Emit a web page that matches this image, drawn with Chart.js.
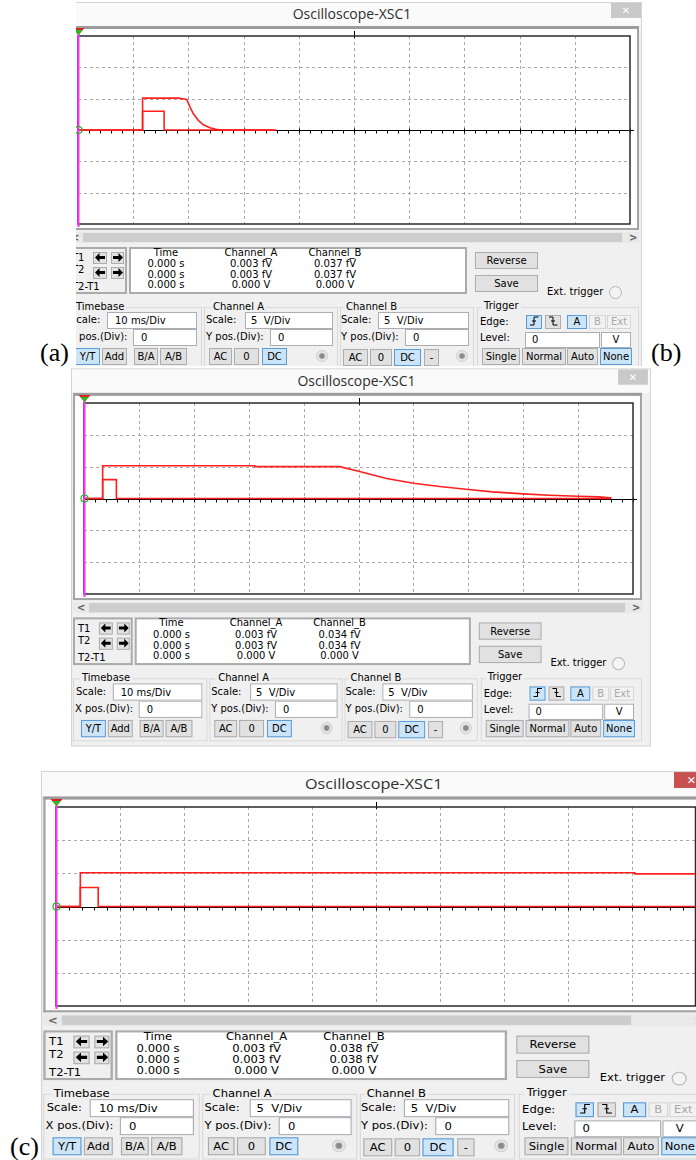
<!DOCTYPE html>
<html><head><meta charset="utf-8">
<script src="https://cdn.jsdelivr.net/npm/chart.js@4.4.0/dist/chart.umd.min.js"></script>
<style>
html,body{margin:0;padding:0;background:#fff;}
body{width:696px;height:1160px;overflow:hidden;position:relative;font-family:"DejaVu Sans",sans-serif;font-size:10px;color:#000;}
.clip{position:absolute;overflow:hidden;}
.tpl{position:absolute;left:0;top:0;width:700px;height:380px;transform-origin:0 0;}
.tpl div{position:absolute;box-sizing:border-box;white-space:nowrap;}
.win{background:#f0f0f0;border:1px solid #d4d4d4;}
.tbar{background:#fafafa;}
.ttl{font-family:"Open Sans",sans-serif;font-size:14px;color:#2e2e2e;text-align:center;}
.frame{background:#fff;border:2px solid #a3a3a3;border-top:3px solid #9c9c9c;}
.sb{background:#e9e9e9;}
.thumb{background:#cdcdcd;}
.sunk{border:2px solid #ababab;}
.white{background:#fff;}
.btn{background:#e1e1e1;border:1px solid #adadad;text-align:center;}
.on{background:#cce4f7;border:1px solid #5b9bd5;}
.dis{background:#f2f2f2;border:1px solid #d5d5d5;color:#a8a8a8;text-align:center;}
.tb{background:#fff;border:1px solid #abadb3;padding-left:7px;}
.grp{border:1px solid #d9d9d9;}
.lab{height:14px;line-height:14px;}
.plab{position:absolute;font-family:"Liberation Serif",serif;font-size:26px;line-height:26px;color:#000;}
canvas{position:absolute;}
</style>
</head><body>
<script>
// ---- axis settings (oscilloscope: 10 ms/Div, 5 V/Div, 10 x 6 divisions) ----
const xMin = 0, xMax = 100, yMin = -15, yMax = 15;
const xGridTicks = [10, 20, 30, 40, 50, 60, 70, 80, 90];
const yGridTicks = [-10, -5, 5, 10];
const minorStep = 2;

// ---- traces (time in ms, voltage in V) ----
const timeA_a = [0, 11.7, 11.7, 15.6, 15.6, 35.8];
const voltA_a = [0, 0, 3.0, 3.0, 0, 0];
const timeB_a = [0, 11.7, 11.7, 18.2, 19.7, 20.3, 20.9, 21.8, 22.7, 23.9, 25.0, 26.0, 35.8];
const voltB_a = [0, 0, 5.08, 5.08, 4.87, 3.64, 2.59, 1.52, 0.83, 0.35, 0.13, 0, 0];

const timeA_b = [0, 3.4, 3.4, 5.9, 5.9, 96.0];
const voltA_b = [0, 0, 2.97, 2.97, 0, 0];
const timeB_b = [0, 3.4, 3.4, 31.1, 31.1, 46.6, 50.0, 55.1, 60.0, 64.8, 70.0, 74.4, 80.0, 84.8, 90.0, 93.8, 96.0, 96.0];
const voltB_b = [0, 0, 5.15, 5.15, 5.0, 5.0, 4.27, 3.13, 2.40, 1.88, 1.41, 1.04, 0.73, 0.52, 0.36, 0.26, 0.10, 0];

const timeA_c = [0, 3.8, 3.8, 6.6, 6.6, 100];
const voltA_c = [0, 0, 2.86, 2.86, 0, 0];
const timeB_c = [0, 3.8, 3.8, 90.5, 90.5, 100];
const voltB_c = [0, 0, 5.08, 5.08, 4.92, 4.92];

// ---- readouts / settings text ----
const readHeaders = ['Time', 'Channel_A', 'Channel_B'];
const readTime = ['0.000 s', '0.000 s', '0.000 s'];
const readChA = ['0.003 fV', '0.003 fV', '0.000 V'];
const readChB_a = ['0.037 fV', '0.037 fV', '0.000 V'];
const readChB_b = ['0.034 fV', '0.034 fV', '0.000 V'];
const readChB_c = ['0.038 fV', '0.038 fV', '0.000 V'];
const timebaseScale = '10 ms/Div';
const chScale = '5&nbsp; V/Div';

const panels = [
  {key:'a', clip:[76,0,620,366], tf:[1,1,0,0], plot:[78,36,552,188], chB:readChB_a, close:'#c9c9c9',
   tA:timeA_a, vA:voltA_a, tB:timeB_a, vB:voltB_a, thumbR:622, winR:642, closeX:611},
  {key:'b', clip:[0,367,696,393], tf:[0.9946,1.016,6.4,366.4], plot:[84,403,549,191], chB:readChB_b, close:'#c9c9c9',
   tA:timeA_b, vA:voltA_b, tB:timeB_b, vB:voltB_b, thumbR:622, winR:648, closeX:615},
  {key:'c', clip:[0,768,696,392], tf:[1.1594,1.0585,-34.4,768.9], plot:[56,807,639.5,199], chB:readChB_c, close:'#c75050',
   tA:timeA_c, vA:voltA_c, tB:timeB_c, vB:voltB_c, thumbR:574, winR:660, closeX:611},
];

function d(parent, x, y, w, h, cls, html, extra) {
  const e = document.createElement('div');
  if (cls) e.className = cls;
  e.style.left = x + 'px'; e.style.top = y + 'px';
  if (w != null) e.style.width = w + 'px';
  if (h != null) { e.style.height = h + 'px'; e.style.lineHeight = (h - 2) + 'px'; }
  if (html != null) e.innerHTML = html;
  if (extra) e.style.cssText += extra;
  parent.appendChild(e);
  return e;
}
function lab(parent, x, yc, text, extra) {
  return d(parent, x, yc - 7, null, null, 'lab', text, extra);
}
function clab(parent, xc, yc, text) {
  return d(parent, xc - 50, yc - 7, 100, null, 'lab', text, 'text-align:center;');
}
const arrL = '<svg width="10" height="9" viewBox="0 0 10 9" style="vertical-align:middle;margin-top:-2px"><path d="M0 4.5L4.5 0V3H10V6H4.5V9Z" fill="#000"/></svg>';
const arrR = '<svg width="10" height="9" viewBox="0 0 10 9" style="vertical-align:middle;margin-top:-2px"><path d="M10 4.5L5.5 0V3H0V6H5.5V9Z" fill="#000"/></svg>';
const edgeR = '<svg width="10" height="10" viewBox="0 0 10 10" style="vertical-align:middle;margin-top:-2px"><path d="M1 9H5V1H9.5M3 5H7" stroke="#000" fill="none" stroke-width="1"/></svg>';
const edgeF = '<svg width="10" height="10" viewBox="0 0 10 10" style="vertical-align:middle;margin-top:-2px"><path d="M1 1H5V9H9.5M3 5H7" stroke="#000" fill="none" stroke-width="1"/></svg>';

function dot(parent, cx, cy) {
  const o = d(parent, cx - 6, cy - 6, 12, 12, '', '', 'border-radius:50%;background:#e6e6e6;border:1px solid #d0d0d0;');
  d(o, 2, 2, 6, 6, '', '', 'border-radius:50%;background:#8a8a8a;border:1px solid #9a9a9a;');
}

function buildTemplate(t, p) {
  d(t, 65, 2, p.winR - 65, 372, 'win');
  d(t, 66, 3, p.winR - 67, 23, 'tbar');
  d(t, 252, 3, 200, 22, 'ttl', 'Oscilloscope-XSC1', 'line-height:22px;');
  d(t, p.closeX, 3, 30, 15, '', '&#x2715;', 'background:' + p.close + ';color:#fff;text-align:center;font-size:10px;line-height:15px;font-weight:bold;');
  d(t, 67, 26, 572, 204, 'frame');
  // scrollbar
  d(t, 67, 232, 572, 11, 'sb');
  d(t, 83, 233, p.thumbR - 83, 9, 'thumb');
  lab(t, 71, 237.5, '&lt;', 'font-weight:bold;color:#606060;font-size:10px;');
  lab(t, 629, 237.5, '&gt;', 'font-weight:bold;color:#606060;font-size:10px;');
  // cursor box
  d(t, 67, 247, 60, 47, 'sunk');
  lab(t, 72, 258, 'T1'); lab(t, 72, 270, 'T2'); lab(t, 72, 287, 'T2-T1');
  d(t, 93, 252, 14, 12, 'btn', arrL, 'line-height:10px;');
  d(t, 111, 252, 13, 12, 'btn', arrR, 'line-height:10px;');
  d(t, 93, 267, 14, 12, 'btn', arrL, 'line-height:10px;');
  d(t, 111, 267, 13, 12, 'btn', arrR, 'line-height:10px;');
  // readout
  d(t, 129, 247, 338, 47, 'sunk white');
  const cols = [166, 251, 335];
  const rows = [253, 264, 274.5, 285];
  readHeaders.forEach((h, i) => clab(t, cols[i], rows[0], h));
  for (let r = 0; r < 3; r++) {
    clab(t, cols[0], rows[r + 1], readTime[r]);
    clab(t, cols[1], rows[r + 1], readChA[r]);
    clab(t, cols[2], rows[r + 1], p.chB[r]);
  }
  d(t, 475, 252, 63, 17, 'btn', 'Reverse');
  d(t, 475, 275, 63, 17, 'btn', 'Save');
  lab(t, 547, 292, 'Ext. trigger');
  d(t, 609, 286, 13, 13, '', '', 'border-radius:50%;border:1px solid #b5b5b5;background:#f4f4f4;');
  // groups
  d(t, 67, 307, 135, 62, 'grp'); d(t, 204, 307, 134, 62, 'grp');
  d(t, 340, 307, 134, 62, 'grp'); d(t, 477, 307, 162, 62, 'grp');
  lab(t, 74, 307, 'Timebase', 'background:#f0f0f0;padding:0 2px;');
  lab(t, 211, 307, 'Channel A', 'background:#f0f0f0;padding:0 2px;');
  lab(t, 344, 307, 'Channel B', 'background:#f0f0f0;padding:0 2px;');
  lab(t, 482, 306, 'Trigger', 'background:#f0f0f0;padding:0 2px;');
  // timebase
  lab(t, 70, 320, 'Scale:');
  d(t, 107, 312, 90, 17, 'tb', timebaseScale);
  lab(t, 69, 337, 'X pos.(Div):');
  d(t, 133, 329, 64, 17, 'tb', '0');
  d(t, 75, 348, 25, 17, 'btn on', 'Y/T');
  d(t, 102, 348, 25, 17, 'btn', 'Add');
  d(t, 134, 348, 24, 17, 'btn', 'B/A');
  d(t, 160, 348, 27, 17, 'btn', 'A/B');
  // channel A
  lab(t, 206, 320, 'Scale:');
  d(t, 245, 312, 88, 17, 'tb', chScale, 'padding-left:5px;');
  lab(t, 206, 337, 'Y pos.(Div):');
  d(t, 270, 329, 63, 17, 'tb', '0');
  d(t, 209, 348, 23, 17, 'btn', 'AC');
  d(t, 234, 348, 25, 17, 'btn', '0');
  d(t, 262, 348, 25, 17, 'btn on', 'DC');
  dot(t, 322, 356);
  // channel B
  lab(t, 341, 320, 'Scale:');
  d(t, 378, 312, 91, 17, 'tb', chScale, 'padding-left:5px;');
  lab(t, 341, 337, 'Y pos.(Div):');
  d(t, 405, 329, 64, 17, 'tb', '0');
  d(t, 343, 349, 25, 17, 'btn', 'AC');
  d(t, 370, 349, 22, 17, 'btn', '0');
  d(t, 394, 349, 27, 17, 'btn on', 'DC');
  d(t, 424, 349, 15, 17, 'btn', '-');
  dot(t, 462, 356);
  // trigger
  lab(t, 480, 322, 'Edge:');
  d(t, 526, 315, 16, 14, 'btn on', edgeR, 'line-height:12px;');
  d(t, 545, 315, 16, 14, 'btn', edgeF, 'line-height:12px;');
  d(t, 567, 315, 20, 14, 'btn on', 'A', 'line-height:12px;');
  d(t, 589, 315, 17, 14, 'dis', 'B', 'line-height:12px;');
  d(t, 607, 315, 24, 14, 'dis', 'Ext', 'line-height:12px;');
  lab(t, 480, 338, 'Level:');
  d(t, 525, 332, 75, 16, 'tb', '0', 'padding-left:6px;');
  d(t, 601, 332, 30, 16, 'tb', 'V', 'padding-left:0;text-align:center;');
  d(t, 482, 348, 38, 17, 'btn', 'Single');
  d(t, 522, 348, 44, 17, 'btn', 'Normal');
  d(t, 567, 348, 31, 17, 'btn', 'Auto');
  d(t, 600, 348, 32, 17, 'btn on', 'None');
}

const scopePlugin = {
  id: 'scope',
  beforeDatasetsDraw(chart) {
    const {ctx, chartArea: a, scales: {x, y}} = chart;
    ctx.save();
    ctx.fillStyle = '#fff';
    ctx.fillRect(a.left, a.top, a.right - a.left, a.bottom - a.top);
    ctx.lineWidth = 1;
    ctx.strokeStyle = '#a9a9a9';
    ctx.setLineDash([3, 3]);
    ctx.beginPath();
    for (const t of xGridTicks) {
      const px = Math.round(x.getPixelForValue(t)) + 0.5;
      ctx.moveTo(px, a.top); ctx.lineTo(px, a.bottom);
    }
    for (const v of yGridTicks) {
      const py = Math.round(y.getPixelForValue(v)) + 0.5;
      ctx.moveTo(a.left, py); ctx.lineTo(a.right, py);
    }
    ctx.stroke();
    ctx.setLineDash([]);
    // centre axis with minor ticks
    const y0 = Math.round(y.getPixelForValue(0)) + 0.5;
    ctx.strokeStyle = '#000';
    ctx.beginPath();
    ctx.moveTo(a.left, y0); ctx.lineTo(a.right + 4, y0);
    for (let t = xMin; t <= xMax; t += minorStep) {
      const px = Math.round(x.getPixelForValue(t)) + 0.5;
      const major = (t % 10 === 0);
      ctx.moveTo(px, y0 - (major ? 2 : 0)); ctx.lineTo(px, y0 + 3);
    }
    const xc = Math.round(x.getPixelForValue((xMin + xMax) / 2)) + 0.5;
    ctx.moveTo(xc, a.top - 5); ctx.lineTo(xc, a.top + 2);
    ctx.stroke();
    // frame
    ctx.strokeStyle = '#2a2a2a';
    ctx.lineWidth = 1.5;
    ctx.strokeRect(a.left, a.top, a.right - a.left, a.bottom - a.top);
    ctx.restore();
  },
  afterDatasetsDraw(chart) {
    const {ctx, chartArea: a, scales: {x, y}} = chart;
    const x0 = Math.round(x.getPixelForValue(0)) + 0.5;
    const y0 = y.getPixelForValue(0);
    ctx.save();
    ctx.strokeStyle = '#ff33ff';
    ctx.lineWidth = 2;
    ctx.beginPath(); ctx.moveTo(x0, a.top - 4); ctx.lineTo(x0, a.bottom + 3); ctx.stroke();
    // cursor marker
    ctx.fillStyle = '#e02020';
    ctx.beginPath(); ctx.moveTo(x0 - 6, a.top - 8); ctx.lineTo(x0 + 6, a.top - 8); ctx.lineTo(x0, a.top - 1); ctx.closePath(); ctx.fill();
    ctx.fillStyle = '#20c020';
    ctx.beginPath(); ctx.moveTo(x0 - 4, a.top - 6); ctx.lineTo(x0 + 4, a.top - 6); ctx.lineTo(x0, a.top - 1); ctx.closePath(); ctx.fill();
    // ground marker
    ctx.strokeStyle = '#20b020'; ctx.lineWidth = 1.2;
    ctx.beginPath(); ctx.arc(x0, y0, 3.5, 0, Math.PI * 2); ctx.stroke();
    ctx.restore();
  }
};

function pts(t, v) { return t.map((tt, i) => ({x: tt, y: v[i]})); }

panels.forEach(p => {
  const [cx, cy, cw, ch] = p.clip;
  const clip = document.createElement('div');
  clip.className = 'clip';
  clip.style.cssText = `left:${cx}px;top:${cy}px;width:${cw}px;height:${ch}px;`;
  document.body.appendChild(clip);
  const t = document.createElement('div');
  t.className = 'tpl';
  const [sx, sy, dx, dy] = p.tf;
  t.style.transform = `matrix(${sx},0,0,${sy},${dx - cx},${dy - cy})`;
  clip.appendChild(t);
  buildTemplate(t, p);

  const [px, py, pw, ph] = p.plot;
  const padL = 10, padR = 8, padT = 10, padB = 6;
  const W = Math.ceil(pw + padL + padR), H = Math.ceil(ph + padT + padB);
  const c = document.createElement('canvas');
  c.width = W; c.height = H;
  c.style.cssText = `left:${px - padL - cx}px;top:${py - padT - cy}px;width:${W}px;height:${H}px;`;
  clip.appendChild(c);
  new Chart(c, {
    type: 'scatter',
    data: {datasets: [
      {label: 'Channel_B', data: pts(p.tB, p.vB), showLine: true, borderColor: '#ff1f1f', borderWidth: 1.6, pointRadius: 0, tension: 0},
      {label: 'Channel_A', data: pts(p.tA, p.vA), showLine: true, borderColor: '#ff1f1f', borderWidth: 1.6, pointRadius: 0, tension: 0}
    ]},
    options: {
      responsive: false, animation: false, devicePixelRatio: 1,
      layout: {padding: {left: padL, right: W - padL - pw, top: padT, bottom: H - padT - ph}},
      plugins: {legend: {display: false}, tooltip: {enabled: false}},
      scales: {
        x: {type: 'linear', min: xMin, max: xMax, display: false},
        y: {type: 'linear', min: yMin, max: yMax, display: false}
      }
    },
    plugins: [scopePlugin]
  });
});

// figure labels
[['(a)', 40, 340], ['(b)', 651, 340], ['(c)', 10, 1134]].forEach(([s, x, y]) => {
  const e = document.createElement('div');
  e.className = 'plab'; e.textContent = s;
  e.style.left = x + 'px'; e.style.top = y + 'px';
  document.body.appendChild(e);
});
</script>
</body></html>
